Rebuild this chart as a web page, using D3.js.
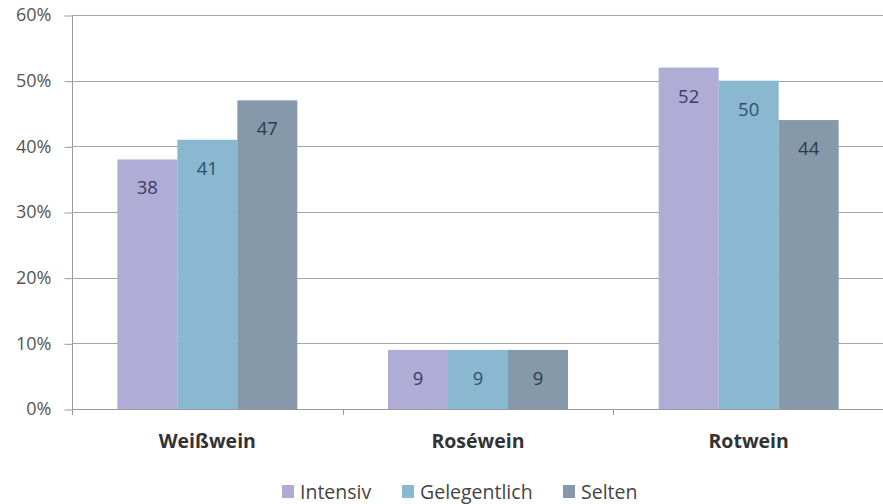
<!DOCTYPE html>
<html>
<head>
<meta charset="utf-8">
<script src="https://cdn.jsdelivr.net/npm/d3@7"></script>
<style>
  body { margin: 0; background: #fff; }
  svg { display: block; font-family: "Open Sans", "Noto Sans", sans-serif; }
</style>
</head>
<body>
<svg id="chart" width="883" height="504"></svg>
<script>
// Wine types and survey shares (%) per consumption group
const categories = ["Weißwein", "Roséwein", "Rotwein"];
const seriesNames = ["Intensiv", "Gelegentlich", "Selten"];
const intensiv = [38, 9, 52];
const gelegentlich = [41, 9, 50];
const selten = [47, 9, 44];
const yTicks = [0, 10, 20, 30, 40, 50, 60];

const seriesValues = [intensiv, gelegentlich, selten];
const fills = ["#afacd6", "#8ab8d0", "#8599aa"];
const labelColors = ["#3f3c62", "#2c5266", "#2e3c4a"];

const svg = d3.select("#chart");
const plotLeft = 72, plotRight = 884, plotTop = 15, plotBottom = 409;

const y = d3.scaleLinear().domain([0, 60]).range([plotBottom, plotTop]);
const x = d3.scaleBand().domain(categories).range([plotLeft, plotRight]).paddingInner(0).paddingOuter(0);
const inner = d3.scaleBand().domain(seriesNames)
  .range([0, x.bandwidth()]).paddingOuter(0.756).paddingInner(0);

// Horizontal gridlines
svg.append("g").selectAll("line").data(yTicks.slice(1)).join("line")
  .attr("x1", plotLeft).attr("x2", 883)
  .attr("y1", d => Math.round(y(d)) + 0.5).attr("y2", d => Math.round(y(d)) + 0.5)
  .attr("stroke", "#a6a6a6").attr("stroke-width", 1);

// Y axis
const yAxis = d3.axisLeft(y).tickValues(yTicks).tickFormat(d => d + "%").tickSize(8).tickPadding(13);
const gy = svg.append("g").attr("transform", `translate(${plotLeft + 0.5},0)`).call(yAxis);
gy.select(".domain").attr("stroke", "#9a9a9a").attr("d", `M0,${y(60)}V${plotBottom}`);
gy.selectAll(".tick line").attr("stroke", "#9a9a9a")
  .attr("transform", "translate(0,0.5)");
gy.selectAll(".tick text").attr("font-size", 18).attr("fill", "#555")
  .attr("font-family", "'Open Sans', sans-serif");

// Bars
const groups = svg.append("g").selectAll("g").data(categories).join("g")
  .attr("transform", d => `translate(${x(d)},0)`);

seriesNames.forEach((s, si) => {
  groups.append("rect")
    .attr("x", () => inner(s))
    .attr("width", inner.bandwidth())
    .attr("y", (d, ci) => y(seriesValues[si][ci]))
    .attr("height", (d, ci) => plotBottom - y(seriesValues[si][ci]))
    .attr("fill", fills[si]);
  groups.append("text")
    .attr("x", () => inner(s) + inner.bandwidth() / 2)
    .attr("y", (d, ci) => y(seriesValues[si][ci]) + 35)
    .attr("text-anchor", "middle")
    .attr("font-size", 18.5)
    .attr("fill", labelColors[si])
    .text((d, ci) => seriesValues[si][ci]);
});

// X axis baseline and ticks
const gx = svg.append("g");
gx.append("line").attr("x1", plotLeft).attr("x2", 883)
  .attr("y1", plotBottom + 0.5).attr("y2", plotBottom + 0.5).attr("stroke", "#9a9a9a");
gx.selectAll("line.tk").data(categories).join("line").attr("class", "tk")
  .attr("x1", d => Math.round(x(d)) + 0.5).attr("x2", d => Math.round(x(d)) + 0.5)
  .attr("y1", plotBottom).attr("y2", plotBottom + 6).attr("stroke", "#9a9a9a");
gx.selectAll("text").data(categories).join("text")
  .attr("x", d => x(d) + x.bandwidth() / 2)
  .attr("y", 448)
  .attr("text-anchor", "middle")
  .attr("font-size", 19.5).attr("font-weight", "bold").attr("fill", "#333")
  .text(d => d);

// Legend
const legendX = [282, 402, 563];
const lg = svg.append("g").selectAll("g").data(seriesNames).join("g")
  .attr("transform", (d, i) => `translate(${legendX[i]},0)`);
lg.append("rect").attr("x", 0).attr("y", 485).attr("width", 12).attr("height", 13)
  .attr("fill", (d, i) => fills[i]);
lg.append("text").attr("x", 18).attr("y", 499)
  .attr("font-size", 19.5).attr("fill", "#444").text(d => d);
</script>
</body>
</html>
